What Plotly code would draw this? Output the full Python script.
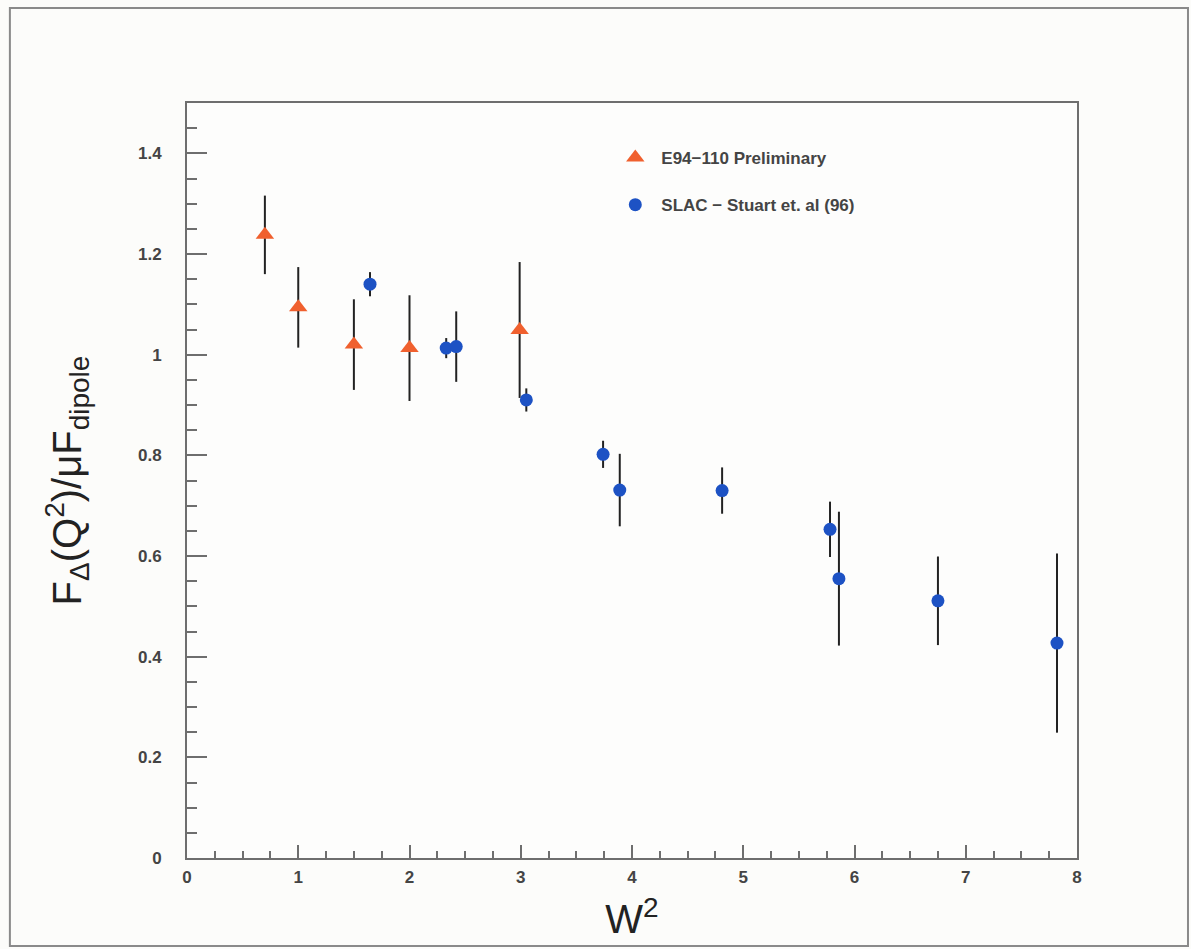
import plotly.graph_objects as go

# E94-110 Preliminary
e94_w2 = [0.70, 1.00, 1.50, 2.00, 2.99]
e94_val = [1.238, 1.094, 1.020, 1.013, 1.049]
e94_err = [0.078, 0.080, 0.090, 0.105, 0.135]

# SLAC - Stuart et. al (96)
slac_w2 = [1.645, 2.33, 2.42, 3.05, 3.74, 3.89, 4.81, 5.78, 5.86, 6.75, 7.82]
slac_val = [1.140, 1.013, 1.016, 0.910, 0.802, 0.731, 0.730, 0.653, 0.555, 0.511, 0.427]
slac_err = [0.024, 0.020, 0.070, 0.023, 0.027, 0.072, 0.046, 0.055, 0.133, 0.088, 0.178]

y_ticks = [0, 0.2, 0.4, 0.6, 0.8, 1, 1.2, 1.4]
y_ticklabels = ["0", "0.2", "0.4", "0.6", "0.8", "1", "1.2", "1.4"]

red = "#f0602e"
blue = "#1d52c4"
axis_col = "#6e6e6e"
text_col = "#444444"
fam = "Liberation Sans, Arial, sans-serif"

fig = go.Figure()
fig.add_trace(go.Scatter(
    x=e94_w2, y=e94_val, mode="markers", name="E94\u2212110 Preliminary",
    legendgroup="a",
    marker=dict(symbol="triangle-up", size=16, color=red),
    error_y=dict(type="data", array=e94_err, visible=True, color="#222222",
                 thickness=2, width=0),
))
fig.add_trace(go.Scatter(
    x=slac_w2, y=slac_val, mode="markers", name="SLAC \u2212 Stuart et. al (96)",
    legendgroup="b",
    marker=dict(symbol="circle", size=13, color=blue),
    error_y=dict(type="data", array=slac_err, visible=True, color="#222222",
                 thickness=2, width=0),
))

tickfont = dict(family=fam, size=17, color=text_col, weight="bold")

fig.update_layout(
    width=1191, height=949,
    margin=dict(l=187, r=114, t=103, b=91),
    paper_bgcolor="#fcfcfa", plot_bgcolor="#fdfdfc",
    showlegend=True,
    legend=dict(x=0.4745, y=0.951, xanchor="left", yanchor="top",
                bgcolor="rgba(0,0,0,0)", tracegroupgap=22, traceorder="grouped",
                itemwidth=42,
                font=dict(family=fam, size=17, color=text_col, weight="bold")),
    xaxis=dict(
        range=[0, 8], dtick=1, tick0=0, showgrid=False, zeroline=False,
        showline=True, linecolor=axis_col, linewidth=2, mirror=True,
        ticks="inside", ticklen=13, tickwidth=2, tickcolor=axis_col,
        minor=dict(dtick=0.25, ticks="inside", ticklen=7, tickwidth=1.5,
                   tickcolor=axis_col, showgrid=False),
        tickfont=tickfont, ticklabelstandoff=3,
        title=dict(text="W<sup>2</sup>",
                   font=dict(family=fam, size=40, color="#222222"),
                   standoff=19),
    ),
    yaxis=dict(
        range=[0, 1.5], tickvals=y_ticks, ticktext=y_ticklabels,
        showgrid=False, zeroline=False,
        showline=True, linecolor=axis_col, linewidth=2, mirror=True,
        ticks="inside", ticklen=20, tickwidth=2, tickcolor=axis_col,
        minor=dict(tickvals=[i * 0.05 for i in range(31)], ticks="inside",
                   ticklen=10, tickwidth=1.5, tickcolor=axis_col, showgrid=False),
        tickfont=tickfont, ticklabelstandoff=20,
        title=dict(text="F<sub>\u0394</sub>(Q<sup>2</sup>)/\u03bcF<sub>dipole</sub>",
                   font=dict(family=fam, size=40, color="#222222"),
                   standoff=44),
    ),
    shapes=[dict(type="rect", xref="paper", yref="paper",
                 x0=-0.199, x1=1.1247, y0=-0.1166, y1=1.1258,
                 line=dict(color="#8a8a8a", width=2), fillcolor="rgba(0,0,0,0)",
                 layer="below")],
)

fig.write_html("out.html")
